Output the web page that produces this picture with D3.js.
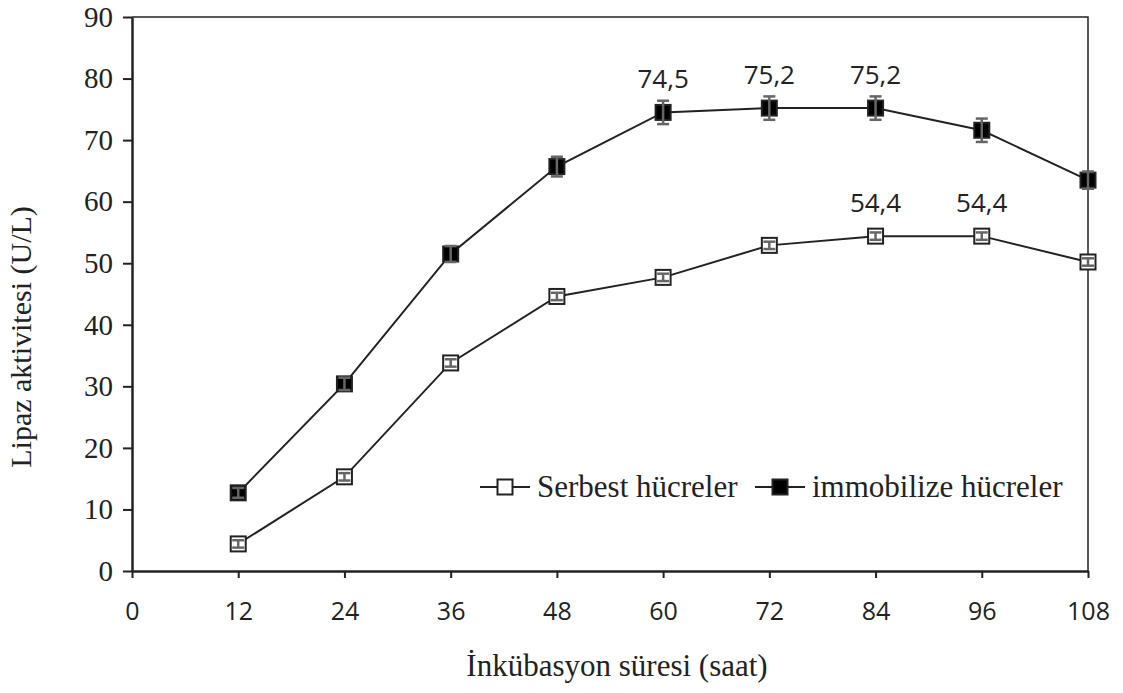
<!DOCTYPE html>
<html>
<head>
<meta charset="utf-8">
<script src="https://cdn.jsdelivr.net/npm/d3@7"></script>
<style>
  body { margin: 0; background: #fff; }
  svg { display: block; }
</style>
</head>
<body>
<div id="chart"></div>
<script>
const hours = [12, 24, 36, 48, 60, 72, 84, 96, 108];
const serbest = [4.4, 15.3, 33.8, 44.6, 47.7, 52.9, 54.4, 54.4, 50.2];
const immobilize = [12.7, 30.4, 51.5, 65.7, 74.5, 75.2, 75.2, 71.6, 63.5];
const serbestErr = [0.6, 0.6, 0.6, 0.6, 0.6, 0.6, 0.6, 0.6, 0.6];
const immobilizeErr = [0.8, 1.0, 1.3, 1.6, 1.9, 1.9, 1.9, 1.9, 1.4];
const xTicks = [0, 12, 24, 36, 48, 60, 72, 84, 96, 108];
const yTicks = [0, 10, 20, 30, 40, 50, 60, 70, 80, 90];
const serbestLabels = [null, null, null, null, null, null, "54,4", "54,4", null];
const immobilizeLabels = [null, null, null, null, "74,5", "75,2", "75,2", null, null];
const seriesNames = ["Serbest hücreler", "immobilize hücreler"];

const width = 1123, height = 693;
const margin = {top: 17, right: 35, bottom: 122, left: 132};

const svg = d3.select("#chart").append("svg")
    .attr("width", width)
    .attr("height", height);

const x = d3.scaleLinear().domain([0, 108]).range([margin.left, width - margin.right]);
const y = d3.scaleLinear().domain([0, 90]).range([height - margin.bottom, margin.top]);

const serif = "'Liberation Serif', 'Times New Roman', serif";
const sans = "'Open Sans', 'Noto Sans', sans-serif";

// plot border (top + right)
svg.append("path")
    .attr("d", `M${x(0)},${y(90)}H${x(108)}V${y(0)}`)
    .attr("fill", "none")
    .attr("stroke", "#222")
    .attr("stroke-width", 1.5);

const xAxis = svg.append("g")
    .attr("transform", `translate(0,${y(0)})`)
    .call(d3.axisBottom(x).tickValues(xTicks).tickSize(7).tickPadding(24).tickSizeOuter(0));
xAxis.select(".domain").attr("stroke", "#222").attr("stroke-width", 2.5);
xAxis.selectAll(".tick line").attr("stroke", "#222").attr("stroke-width", 2);
xAxis.selectAll("text").style("font-family", sans).style("font-size", "25px").attr("fill", "#222");

const yAxis = svg.append("g")
    .attr("transform", `translate(${x(0)},0)`)
    .call(d3.axisLeft(y).tickValues(yTicks).tickSize(9).tickPadding(10).tickSizeOuter(0));
yAxis.select(".domain").attr("stroke", "#222").attr("stroke-width", 2.5);
yAxis.selectAll(".tick line").attr("stroke", "#222").attr("stroke-width", 2);
yAxis.selectAll("text").style("font-family", serif).style("font-size", "29px").attr("fill", "#222");

const line = d3.line().x(d => x(d[0])).y(d => y(d[1]));

const series = [
  {vals: serbest, err: serbestErr, labels: serbestLabels, fill: "#fff"},
  {vals: immobilize, err: immobilizeErr, labels: immobilizeLabels, fill: "#000"}
];

const ms = 15;

series.forEach(s => {
  const pts = hours.map((h, i) => [h, s.vals[i], s.err[i], s.labels[i]]);
  svg.append("path")
      .datum(pts)
      .attr("d", line)
      .attr("fill", "none")
      .attr("stroke", "#222")
      .attr("stroke-width", 2);

  svg.append("g").selectAll("rect")
      .data(pts)
      .join("rect")
      .attr("x", d => x(d[0]) - ms / 2)
      .attr("y", d => y(d[1]) - ms / 2)
      .attr("width", ms)
      .attr("height", ms)
      .attr("fill", s.fill)
      .attr("stroke", "#222")
      .attr("stroke-width", 2);

  // error bars
  const eb = svg.append("g").attr("stroke", "#666").attr("stroke-width", 2.5);
  pts.forEach(d => {
    const cx = x(d[0]);
    const y1 = y(d[1] + d[2]), y2 = y(d[1] - d[2]);
    eb.append("line").attr("x1", cx).attr("x2", cx).attr("y1", y1).attr("y2", y2);
    eb.append("line").attr("x1", cx - 6).attr("x2", cx + 6).attr("y1", y1).attr("y2", y1);
    eb.append("line").attr("x1", cx - 6).attr("x2", cx + 6).attr("y1", y2).attr("y2", y2);
  });

  svg.append("g").selectAll("text")
      .data(pts.filter(d => d[3]))
      .join("text")
      .attr("x", d => x(d[0]))
      .attr("y", d => y(d[1]) - 24)
      .attr("text-anchor", "middle")
      .style("font-family", sans)
      .style("font-size", "26px")
      .attr("fill", "#222")
      .text(d => d[3]);
});

// legend
const legendY = 487;
const legend = [
  {x0: 480, name: seriesNames[0], fill: "#fff"},
  {x0: 755, name: seriesNames[1], fill: "#000"}
];
legend.forEach(l => {
  const g = svg.append("g");
  g.append("line")
      .attr("x1", l.x0).attr("x2", l.x0 + 50)
      .attr("y1", legendY).attr("y2", legendY)
      .attr("stroke", "#222").attr("stroke-width", 2);
  g.append("rect")
      .attr("x", l.x0 + 25 - ms / 2).attr("y", legendY - ms / 2)
      .attr("width", ms).attr("height", ms)
      .attr("fill", l.fill).attr("stroke", "#222").attr("stroke-width", 2);
  g.append("text")
      .attr("x", l.x0 + 57).attr("y", legendY + 10)
      .style("font-family", serif).style("font-size", "31px")
      .attr("fill", "#222")
      .text(l.name);
});

// axis titles
svg.append("text")
    .attr("x", 617).attr("y", 676)
    .attr("text-anchor", "middle")
    .style("font-family", serif).style("font-size", "31px")
    .attr("fill", "#222")
    .text("İnkübasyon süresi (saat)");

svg.append("text")
    .attr("transform", "translate(31,337) rotate(-90)")
    .attr("text-anchor", "middle")
    .style("font-family", serif).style("font-size", "30px")
    .attr("fill", "#222")
    .text("Lipaz aktivitesi (U/L)");
</script>
</body>
</html>
